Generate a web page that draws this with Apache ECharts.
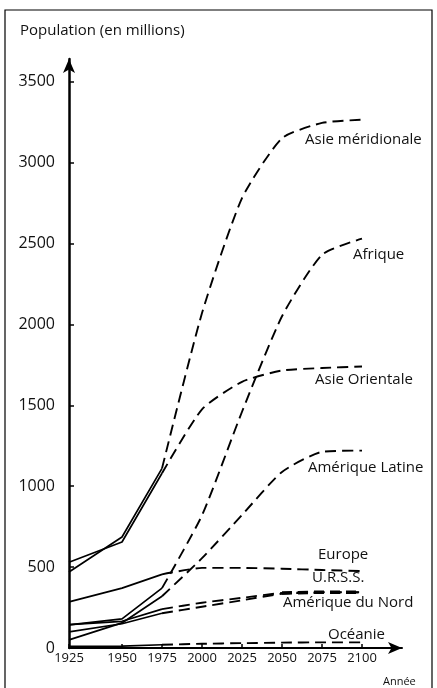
<!DOCTYPE html>
<html><head><meta charset="utf-8">
<script src="https://cdn.jsdelivr.net/npm/echarts@6/dist/echarts.min.js"></script>
<style>html,body{margin:0;padding:0;background:#fff}#c{width:437px;height:688px}</style>
</head><body><div id="c"></div>
<script>
// ---- data (population in millions) ----
const years = [1925, 1950, 1975, 2000, 2025, 2050, 2075, 2100];
const yTicks = [0, 500, 1000, 1500, 2000, 2500, 3000, 3500];
const asieMeridionale = [470, 686, 1110, 2070, 2780, 3150, 3245, 3265];
const asieOrientale   = [530, 655, 1080, 1475, 1645, 1715, 1730, 1740];
const afrique         = [143, 180, 370, 820, 1460, 2050, 2430, 2530];
const ameriqueLatine  = [50, 155, 320, 555, 822, 1088, 1212, 1220];
const europe          = [285, 370, 455, 495, 495, 490, 482, 475];
const urss            = [145, 165, 240, 280, 310, 340, 345, 345];
const ameriqueNord    = [100, 150, 215, 255, 295, 335, 342, 343];
const oceanie         = [10, 12, 20, 26, 30, 33, 35, 35];
const lastObservedIndex = 2; // 1975: solid before, dashed (projection) after

// The original time axis is not linear: the 1925-1950 span is drawn wider.
const FIRST_SPAN = 1.325;
function yearToAxis(y) { return y < 1950 ? (y - 1950) / 25 * FIRST_SPAN : (y - 1950) / 25; }
const axisYears = years.map(yearToAxis);
const yearLabel = {};
years.forEach(y => { yearLabel[yearToAxis(y).toFixed(3)] = String(y); });

const FONT = 'Open Sans';
const regions = [
  { name: 'Asie méridionale', v: asieMeridionale },
  { name: 'Asie Orientale', v: asieOrientale },
  { name: 'Afrique', v: afrique },
  { name: 'Amérique Latine', v: ameriqueLatine },
  { name: 'Europe', v: europe },
  { name: 'U.R.S.S.', v: urss },
  { name: 'Amérique du Nord', v: ameriqueNord },
  { name: 'Océanie', v: oceanie }
];

const series = [];
regions.forEach(r => {
  const pts = years.map((y, i) => [yearToAxis(y), r.v[i]]);
  series.push({
    name: r.name, type: 'line', symbol: 'none', silent: true,
    data: pts.slice(0, lastObservedIndex + 1),
    lineStyle: { color: '#000', width: 1.7, type: 'solid' }
  });
  series.push({
    name: r.name + ' (proj.)', type: 'line', symbol: 'none', silent: true,
    smooth: 0.2,
    data: pts.slice(lastObservedIndex),
    lineStyle: { color: '#000', width: 1.9, type: [11, 6] }
  });
});
// heavier dashes at the end of the U.R.S.S. projection
series.push({
  name: 'U.R.S.S. fin', type: 'line', symbol: 'none', silent: true,
  data: years.map((y, i) => [yearToAxis(y), urss[i]]).slice(5),
  lineStyle: { color: '#000', width: 3.5, type: [10, 6] }
});

const labelStyle = (t, x, y) => ({
  type: 'text', left: x, top: y - 10,
  style: { text: t, font: '15px "' + FONT + '"', fill: '#111' }
});

const chart = echarts.init(document.getElementById('c'), null, { renderer: 'canvas' });
chart.setOption({
  animation: false,
  backgroundColor: '#fff',
  grid: { left: 69, right: 35, top: 59, bottom: 40 },
  xAxis: {
    type: 'value', min: yearToAxis(1925), max: 7.0,
    axisLine: { onZero: false, symbol: ['none', 'arrow'], symbolSize: [9, 14],
      lineStyle: { color: '#000', width: 2 } },
    axisTick: { show: true, inside: true, length: 4, customValues: axisYears,
      lineStyle: { color: '#000', width: 1.5 } },
    axisLabel: { customValues: axisYears, margin: 4, color: '#111',
      fontFamily: FONT, fontSize: 13,
      formatter: v => yearLabel[(+v).toFixed(3)] || '' },
    splitLine: { show: false }
  },
  yAxis: {
    type: 'value', min: 0, max: 3640, interval: 500,
    axisLine: { show: true, onZero: false, symbol: ['none', 'arrow'], symbolSize: [9, 14],
      lineStyle: { color: '#000', width: 2.5 } },
    axisTick: { show: true, inside: true, length: 5, customValues: yTicks,
      lineStyle: { color: '#000', width: 1.5 } },
    axisLabel: { customValues: yTicks, margin: 14, color: '#111',
      fontFamily: FONT, fontSize: 16, formatter: v => String(v) },
    splitLine: { show: false }
  },
  series: series,
  graphic: [
    { type: 'rect', shape: { x: 5, y: 10, width: 427, height: 700 },
      style: { fill: 'none', stroke: '#000', lineWidth: 1.2 }, silent: true },
    { type: 'text', left: 20, top: 23,
      style: { text: 'Population (en millions)', font: '15px "' + FONT + '"', fill: '#111' } },
    { type: 'text', left: 383, top: 676,
      style: { text: 'Année', font: '11px "' + FONT + '"', fill: '#111' } },
    labelStyle('Asie méridionale', 305, 142),
    labelStyle('Afrique', 353, 257),
    labelStyle('Asie Orientale', 315, 382),
    labelStyle('Amérique Latine', 308, 470),
    labelStyle('Europe', 318, 557),
    labelStyle('U.R.S.S.', 312, 580),
    labelStyle('Amérique du Nord', 283, 605),
    labelStyle('Océanie', 328, 637)
  ]
});
</script></body></html>
